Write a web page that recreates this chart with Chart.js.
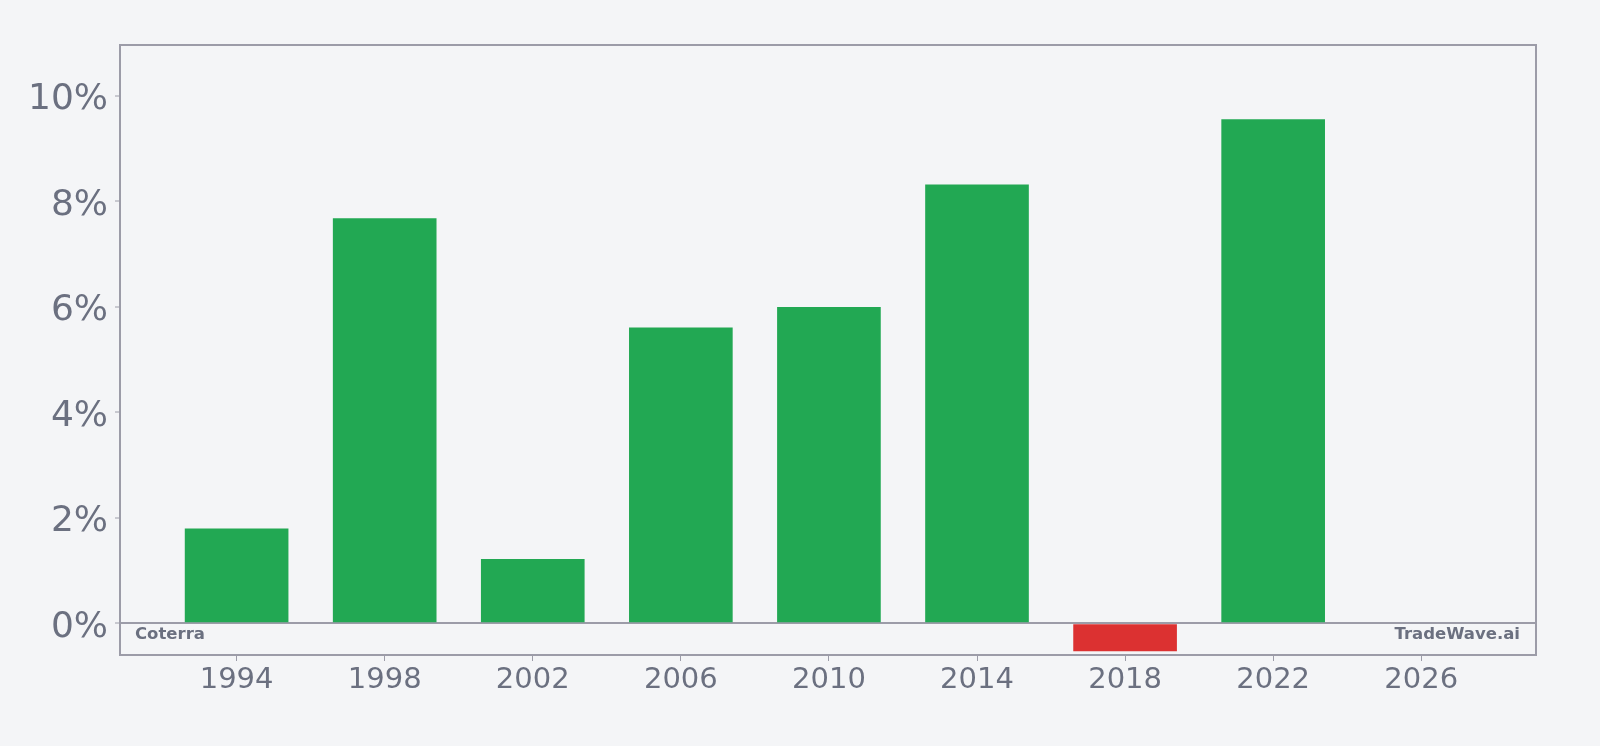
<!DOCTYPE html>
<html>
<head>
<meta charset="utf-8">
<script src="https://cdn.jsdelivr.net/npm/chart.js@4/dist/chart.umd.min.js"></script>
<style>
  html, body { margin: 0; padding: 0; background: #f4f5f7; }
  #wrap { width: 1600px; height: 746px; }
</style>
</head>
<body>
<div id="wrap"><canvas id="retChart" width="1600" height="746"></canvas></div>
<script>
// yearly return, %
const years = [1994, 1998, 2002, 2006, 2010, 2014, 2018, 2022];
const returns = [1.80, 7.68, 1.22, 5.61, 6.00, 8.32, -0.53, 9.56];
const xTicks = [1994, 1998, 2002, 2006, 2010, 2014, 2018, 2022, 2026];
const yTicks = [0, 2, 4, 6, 8, 10];

const GREEN = '#22a853';
const RED = '#dc3131';
const AXIS = '#9c9ca8';
const TEXT = '#6b7080';

const boxAndMarks = {
    id: 'boxAndMarks',
    afterDraw(chart) {
        const { ctx, chartArea: a } = chart;
        ctx.save();
        ctx.strokeStyle = AXIS;
        ctx.lineWidth = 2;
        ctx.strokeRect(a.left, a.top, a.right - a.left, a.bottom - a.top);
        // watermarks
        const y0 = chart.scales.y.getPixelForValue(0);
        const ty = y0 + 11;
        ctx.fillStyle = TEXT;
        ctx.font = 'bold 16.5px "DejaVu Sans"';
        ctx.textBaseline = 'middle';
        ctx.textAlign = 'left';
        ctx.fillText('Coterra', a.left + 15, ty);
        ctx.textAlign = 'right';
        ctx.fillText('TradeWave.ai', a.right - 16, ty);
        ctx.restore();
    }
};

new Chart(document.getElementById('retChart').getContext('2d'), {
    type: 'bar',
    data: {
        datasets: [{
            data: years.map((y, i) => ({ x: y, y: returns[i] })),
            backgroundColor: returns.map(v => v >= 0 ? GREEN : RED),
            borderWidth: 0,
            barPercentage: 0.7,
            categoryPercentage: 1.0
        }]
    },
    options: {
        responsive: false,
        animation: false,
        layout: { padding: { top: 45, right: 64, bottom: 0, left: 0 } },
        plugins: {
            legend: { display: false },
            tooltip: { enabled: false }
        },
        scales: {
            x: {
                type: 'linear',
                min: 1990.85,
                max: 2029.1,
                offset: false,
                afterBuildTicks: s => { s.ticks = xTicks.map(v => ({ value: v })); },
                afterFit: s => { s.height = 91; },
                border: { display: false },
                grid: {
                    offset: false,
                    drawOnChartArea: false,
                    tickLength: 6,
                    tickColor: AXIS,
                    tickWidth: 1
                },
                ticks: {
                    color: TEXT,
                    padding: 2,
                    font: { family: 'DejaVu Sans', size: 29 },
                    callback: v => String(v)
                }
            },
            y: {
                min: -0.6,
                max: 10.967,
                afterBuildTicks: s => { s.ticks = yTicks.map(v => ({ value: v })); },
                afterFit: s => { s.width = 120; },
                border: { display: false },
                grid: {
                    color: c => c.tick && c.tick.value === 0 ? AXIS : 'transparent',
                    lineWidth: 2,
                    tickLength: 5,
                    tickColor: AXIS,
                    tickWidth: 1
                },
                ticks: {
                    color: TEXT,
                    padding: 7,
                    labelOffset: 4,
                    font: { family: 'DejaVu Sans', size: 36 },
                    callback: v => v + '%'
                }
            }
        }
    },
    plugins: [boxAndMarks]
});
</script>
</body>
</html>
